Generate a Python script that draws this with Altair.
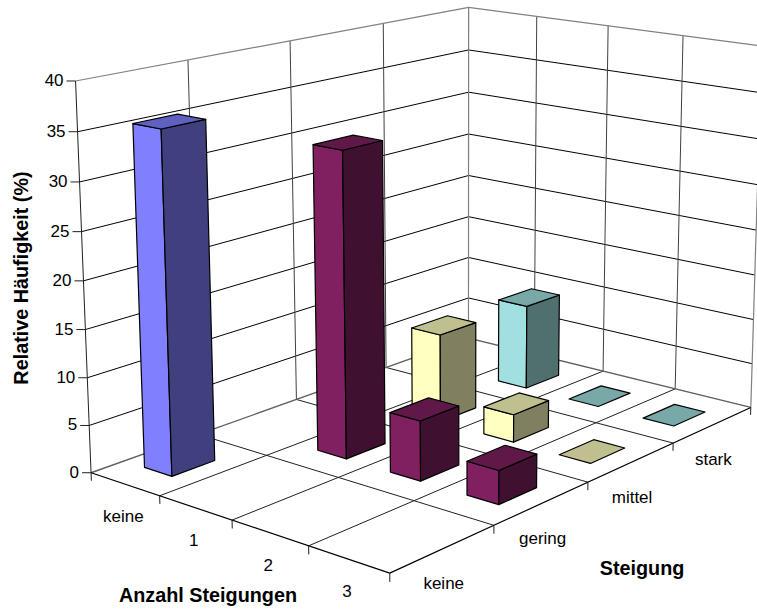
import altair as alt
import numpy as np

# Chart content
steps_labels = ["keine", "1", "2", "3"]
slope_labels = ["keine", "gering", "mittel", "stark"]
z_ticks = [0, 5, 10, 15, 20, 25, 30, 35, 40]

# Relative frequency per (number of climbs, slope class); None means no column
freq_keine = [35.5, None, None, None]
freq_gering = [None, 32.3, 6.3, 3.5]
freq_mittel = [None, 9.7, 3.0, 0.0]
freq_stark = [None, 9.5, 0.0, 0.0]

# Face colours of the columns per slope class: front, side, top
shades = [
    ("#8080FF", "#40407F", "#6060C0"),
    ("#802060", "#401030", "#601848"),
    ("#FFFFC0", "#808060", "#BFBF90"),
    ("#A0E0E0", "#507070", "#78A8A8"),
]

# Camera calibration: (u, v, z) in data units against drawing position
camera_marks = [
    ((0, 0, 0), (91, 472)), ((1, 0, 0), (160, 496)), ((2, 0, 0), (232, 520)),
    ((3, 0, 0), (309, 546)), ((4, 0, 0), (390, 573)),
    ((4, 1, 0), (494, 526)), ((4, 2, 0), (588, 482)), ((4, 3, 0), (673, 443)),
    ((4, 4, 0), (751, 408)), ((0, 4, 0), (468, 338)), ((0, 2, 0), (296, 399)),
    ((0, 0, 40), (75, 81)), ((0, 1, 40), (188, 60)), ((0, 2, 40), (290, 41)),
    ((0, 3, 40), (383, 24)), ((0, 4, 40), (469, 7)), ((1, 4, 40), (537, 17)),
    ((2, 4, 40), (609, 26)), ((3, 4, 40), (685, 35)), ((4, 4, 40), (759, 45)),
]


def solve_camera(marks):
    rows = []
    for (u, v, z), (x, y) in marks:
        rows.append([u, v, z, 1, 0, 0, 0, 0, -x * u, -x * v, -x * z, -x])
        rows.append([0, 0, 0, 0, u, v, z, 1, -y * u, -y * v, -y * z, -y])
    return np.linalg.svd(np.array(rows, float))[2][-1].reshape(3, 4)


CAM = solve_camera(camera_marks)


def project(u, v, z):
    p = CAM @ np.array([u, v, z, 1.0])
    return [float(p[0] / p[2]), float(p[1] / p[2])]


def line(a, b, stroke="#000000", width=1.0):
    return {
        "type": "Feature", "properties": {},
        "geometry": {"type": "LineString", "coordinates": [project(*a), project(*b)]},
        "stroke": stroke, "sw": width,
    }


def face(corners, fill):
    ring = [project(*c) for c in corners]
    ring.append(ring[0])
    return {
        "type": "Feature", "properties": {},
        "geometry": {"type": "Polygon", "coordinates": [ring]},
        "fill": fill,
    }


GREY = "#808080"
lines = []

# Horizontal grid on both walls
for z in z_ticks[1:-1]:
    lines.append(line((0, 0, z), (0, 4, z)))
    lines.append(line((0, 4, z), (4, 4, z)))
# Vertical grid on both walls
for k in range(1, 4):
    lines.append(line((0, k, 0), (0, k, 40), "#404040"))
    lines.append(line((k, 4, 0), (k, 4, 40), "#404040"))
# Floor grid
for k in range(1, 4):
    lines.append(line((k, 0, 0), (k, 4, 0), "#202020"))
    lines.append(line((0, k, 0), (4, k, 0), "#202020"))
# Wall borders
lines.append(line((0, 0, 40), (0, 4, 40), GREY, 1.2))
lines.append(line((0, 4, 40), (4, 4, 40), GREY, 1.2))
lines.append(line((0, 4, 0), (0, 4, 40), GREY, 1.2))
lines.append(line((4, 4, 0), (4, 4, 40), GREY, 1.2))
lines.append(line((0, 0, 0), (0, 4, 0), "#606060", 1.4))
lines.append(line((0, 4, 0), (4, 4, 0), "#606060", 1.4))
# Axis lines and the ticks hanging below the floor
lines.append(line((0, 0, 0), (0, 0, 40), "#202020"))
lines.append(line((0, 0, 0), (4, 0, 0), "#000000", 1.2))
lines.append(line((4, 0, 0), (4, 4, 0), "#000000", 1.2))
for k in range(5):
    lines.append(line((k, 0, 0), (k, 0, -0.85), "#202020"))
for k in range(1, 5):
    lines.append(line((4, k, 0), (4, k, -0.85), "#202020"))

# Columns, painted from the back corner forward
GAP_U = 0.3
GAP_V = 0.3
columns = [freq_keine, freq_gering, freq_mittel, freq_stark]
faces = []
for v_idx in (3, 2, 1, 0):
    front, side, top = shades[v_idx]
    for u_idx in range(4):
        val = columns[v_idx][u_idx]
        if val is None:
            continue
        u0, u1 = u_idx + GAP_U, u_idx + 1 - GAP_U
        v0, v1 = v_idx + GAP_V, v_idx + 1 - GAP_V
        if val > 0:
            faces.append(face([(u0, v0, 0), (u1, v0, 0), (u1, v0, val), (u0, v0, val)], front))
            faces.append(face([(u1, v0, 0), (u1, v1, 0), (u1, v1, val), (u1, v0, val)], side))
        faces.append(face([(u0, v0, val), (u1, v0, val), (u1, v1, val), (u0, v1, val)], top))

# Value ticks on the vertical axis and all category / value labels
labels = []
for z in z_ticks:
    x, y = project(0, 0, z)
    lines.append({
        "type": "Feature", "properties": {},
        "geometry": {"type": "LineString", "coordinates": [[x - 9, y], [x, y]]},
        "stroke": "#202020", "sw": 1.0,
    })
    labels.append({"px": x - 12, "py": y, "t": str(z), "a": "right"})
for k, name in enumerate(steps_labels):
    x, y = project(k + 0.5, 0, 0)
    labels.append({"px": x - 1.5, "py": y + 33, "t": name, "a": "center"})
for k, name in enumerate(slope_labels):
    x, y = project(4, k + 0.5, 0)
    labels.append({"px": x + 0.5, "py": y + 35.5, "t": name, "a": "center"})

titles = [
    {"px": 208, "py": 596, "t": "Anzahl Steigungen", "r": 0},
    {"px": 642, "py": 569, "t": "Steigung", "r": 0},
    {"px": 22, "py": 278, "t": "Relative Häufigkeit (%)", "r": 270},
]

FONT = "Liberation Sans"

line_layer = (
    alt.Chart(alt.Data(values=lines))
    .mark_geoshape(filled=False)
    .encode(
        stroke=alt.Stroke("stroke:N", scale=None),
        strokeWidth=alt.StrokeWidth("sw:Q", scale=None),
    )
)
face_layer = (
    alt.Chart(alt.Data(values=faces))
    .mark_geoshape(stroke="#000000", strokeWidth=1.2, strokeJoin="round")
    .encode(color=alt.Color("fill:N", scale=None))
)
left_labels = (
    alt.Chart(alt.Data(values=[d for d in labels if d["a"] == "right"]))
    .mark_text(font=FONT, fontSize=17, align="right", baseline="middle", color="#000000")
    .encode(longitude="px:Q", latitude="py:Q", text="t:N")
)
center_labels = (
    alt.Chart(alt.Data(values=[d for d in labels if d["a"] == "center"]))
    .mark_text(font=FONT, fontSize=17, align="center", baseline="middle", color="#000000")
    .encode(longitude="px:Q", latitude="py:Q", text="t:N")
)
flat_titles = (
    alt.Chart(alt.Data(values=[d for d in titles if d["r"] == 0]))
    .mark_text(font=FONT, fontSize=19.8, fontWeight="bold", align="center", baseline="middle", color="#000000")
    .encode(longitude="px:Q", latitude="py:Q", text="t:N")
)
side_title = (
    alt.Chart(alt.Data(values=[d for d in titles if d["r"] == 270]))
    .mark_text(font=FONT, fontSize=19.8, fontWeight="bold", align="center", baseline="middle", angle=270, color="#000000")
    .encode(longitude="px:Q", latitude="py:Q", text="t:N")
)

chart = (
    alt.layer(line_layer, face_layer, left_labels, center_labels, flat_titles, side_title)
    .project(type="identity", scale=1, translate=[0, 0])
    .properties(width=757, height=609, padding=0, autosize=alt.AutoSizeParams(type="none"), background="#FFFFFF")
    .configure_view(stroke=None)
)

chart.save("out.html", embed_options={"renderer": "svg", "actions": False})
